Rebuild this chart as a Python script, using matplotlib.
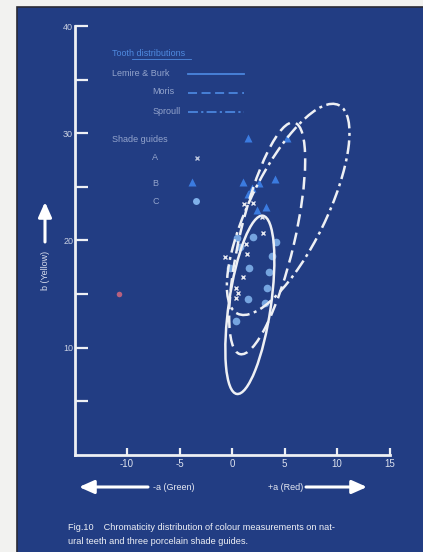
import matplotlib.pyplot as plt
from matplotlib.patches import Ellipse, Rectangle

plt.rcParams['font.family'] = ['Liberation Sans', 'DejaVu Sans']
plt.rcParams['axes.unicode_minus'] = False

BG = '#223d83'
LINE = '#eef0f4'

# tooth distributions, drawn as ellipses (a, b) centre, full axis lengths, tilt in degrees
dist_names = ['Lemire & Burk', 'Moris', 'Sproull']
dist_styles = ['-', (0, (5, 2.5)), (0, (5.5, 1.8, 1.2, 1.8))]
dist_centre_a = [1.7, 3.35, 5.35]
dist_centre_b = [14.0, 20.2, 22.9]
dist_major = [16.8, 22.2, 21.7]
dist_minor = [4.0, 5.2, 7.3]
dist_angle = [81.5, 76.5, 63.5]

# shade guide A (x markers)
guide_a_a = [1.14, 2.0, 2.86, 2.95, 1.33, 1.43, 1.05, 0.38, 0.57, 0.38, -0.67]
guide_a_b = [23.4, 23.5, 22.2, 20.7, 19.7, 18.7, 16.6, 15.6, 15.1, 14.6, 18.5]

# shade guide B (triangles)
guide_b_a = [1.52, 5.24, 1.05, 2.57, 4.10, 1.90, 1.52, 2.38, 3.24]
guide_b_b = [29.6, 29.6, 25.5, 25.4, 25.7, 24.9, 24.3, 22.8, 23.1]

# shade guide C (circles)
guide_c_a = [0.43, 2.03, 4.19, 0.76, 3.78, 1.65, 3.54, 3.30, 1.50, 3.17, 0.38, -0.19]
guide_c_b = [20.2, 20.3, 19.9, 19.4, 18.6, 17.4, 17.1, 15.6, 14.5, 14.2, 12.5, 17.4]

# single outlier
odd_a = [-10.8]
odd_b = [15.0]

x_ticks = [-10, -5, 0, 5, 10, 15]
y_major = [10, 20, 30, 40]
y_minor = [5, 15, 25, 35]

W, H = 423, 552
fig = plt.figure(figsize=(W / 100, H / 100), dpi=100, facecolor='#f2f2f0')


def fx(x):
    return x / W


def fy(y):
    return 1 - y / H


# blue plate of the scanned figure
fig.add_artist(Rectangle((fx(17), -0.01), 1, fy(7) + 0.01, transform=fig.transFigure,
                         facecolor=BG, edgecolor='#2a2a35', lw=1.2, zorder=0))

ax = fig.add_axes([fx(74.5), fy(455), (389.5 - 74.5) / W, (455 - 26) / H])
ax.set_facecolor('none')
ax.set_xlim(-15, 15)
ax.set_ylim(0, 40)
for s in ['top', 'right']:
    ax.spines[s].set_visible(False)
for s in ['left', 'bottom']:
    ax.spines[s].set_color(LINE)
    ax.spines[s].set_linewidth(2)

ax.set_xticks(x_ticks)
ax.set_yticks(y_major)
ax.set_yticks(y_minor, minor=True)
ax.tick_params(axis='x', direction='in', length=5, width=1.6, color=LINE,
               labelcolor='#dde2ee', labelsize=7, pad=3)
ax.tick_params(axis='y', which='both', direction='in', length=9, width=1.6,
               color=LINE, labelcolor='#c9d0e2', labelsize=6.5, pad=1)
ax.tick_params(axis='y', which='minor', labelleft=False)

for name, st, ca, cb, mj, mn, ang in zip(dist_names, dist_styles, dist_centre_a,
                                         dist_centre_b, dist_major, dist_minor, dist_angle):
    ax.add_patch(Ellipse((ca, cb), mj, mn, angle=ang, fill=False,
                         edgecolor=LINE, lw=1.8, linestyle=st, zorder=3))

ax.plot(guide_c_a, guide_c_b, 'o', ms=5.5, color='#7fb0ea', mec='none', alpha=0.9, zorder=2)
ax.plot(guide_b_a, guide_b_b, '^', ms=6, color='#3b7be0', mec='none', zorder=2)
ax.plot(guide_a_a, guide_a_b, 'x', ms=3.5, mew=1, color='#e6e8f0', zorder=4)
ax.plot(odd_a, odd_b, 'o', ms=4, color='#b8607e', mec='none', zorder=2)

# legend block, drawn like the original lettering
fig.text(fx(112), fy(54), 'Tooth distributions', color='#4f8ae0', fontsize=6.5, va='center')
fig.add_artist(plt.Line2D([fx(132), fx(191)], [fy(59), fy(59)], color='#4f8ae0', lw=0.6))
leg_y = [73, 92, 111]
leg_x = [112, 152, 153]
for name, st, lx, ly in zip(dist_names, dist_styles, leg_x, leg_y):
    fig.text(fx(lx), fy(ly), name, color='#93a4cc', fontsize=6.5, va='center')
    fig.add_artist(plt.Line2D([fx(188), fx(244)], [fy(ly + 1), fy(ly + 1)],
                              color='#4a86dd', lw=1.3, linestyle=st))
fig.text(fx(112), fy(139), 'Shade guides', color='#93a4cc', fontsize=6.5, va='center')
fig.text(fx(152), fy(158), 'A', color='#93a4cc', fontsize=6.5, va='center')
fig.text(fx(152), fy(183), 'B', color='#93a4cc', fontsize=6.5, va='center')
fig.text(fx(152), fy(201), 'C', color='#93a4cc', fontsize=6.5, va='center')
fig.add_artist(plt.Line2D([fx(197)], [fy(158)], marker='x', ms=3.5, mew=1, color='#b9c3dc'))
fig.add_artist(plt.Line2D([fx(192)], [fy(182)], marker='^', ms=6, color='#3b7be0', mec='none'))
fig.add_artist(plt.Line2D([fx(196)], [fy(201)], marker='o', ms=5, color='#7fb0ea', mec='none'))

# axis labels with arrows
fig.text(fx(45), fy(270), 'b (Yellow)', rotation=90, color='#d8dded', fontsize=6.5,
         ha='center', va='center')
arrow = dict(arrowstyle='-|>,head_length=0.9,head_width=0.4', color='white', lw=2.2,
             shrinkA=0, shrinkB=0)
ax.annotate('', xy=(fx(45), fy(202)), xytext=(fx(45), fy(242)),
            xycoords='figure fraction', textcoords='figure fraction', arrowprops=arrow)
fig.text(fx(174), fy(487), '-a (Green)', color='#e6e9f2', fontsize=6.5, ha='center', va='center')
ax.annotate('', xy=(fx(79), fy(487)), xytext=(fx(148), fy(487)),
            xycoords='figure fraction', textcoords='figure fraction', arrowprops=arrow)
fig.text(fx(286), fy(487), '+a (Red)', color='#e6e9f2', fontsize=6.5, ha='center', va='center')
ax.annotate('', xy=(fx(367), fy(487)), xytext=(fx(306), fy(487)),
            xycoords='figure fraction', textcoords='figure fraction', arrowprops=arrow)

fig.text(fx(68), fy(527), 'Fig.10    Chromaticity distribution of colour measurements on nat-',
         color='#eef0f6', fontsize=6.6, va='center')
fig.text(fx(68), fy(541), 'ural teeth and three porcelain shade guides.',
         color='#eef0f6', fontsize=6.6, va='center')

fig.savefig('out.png', dpi=100, facecolor=fig.get_facecolor())
